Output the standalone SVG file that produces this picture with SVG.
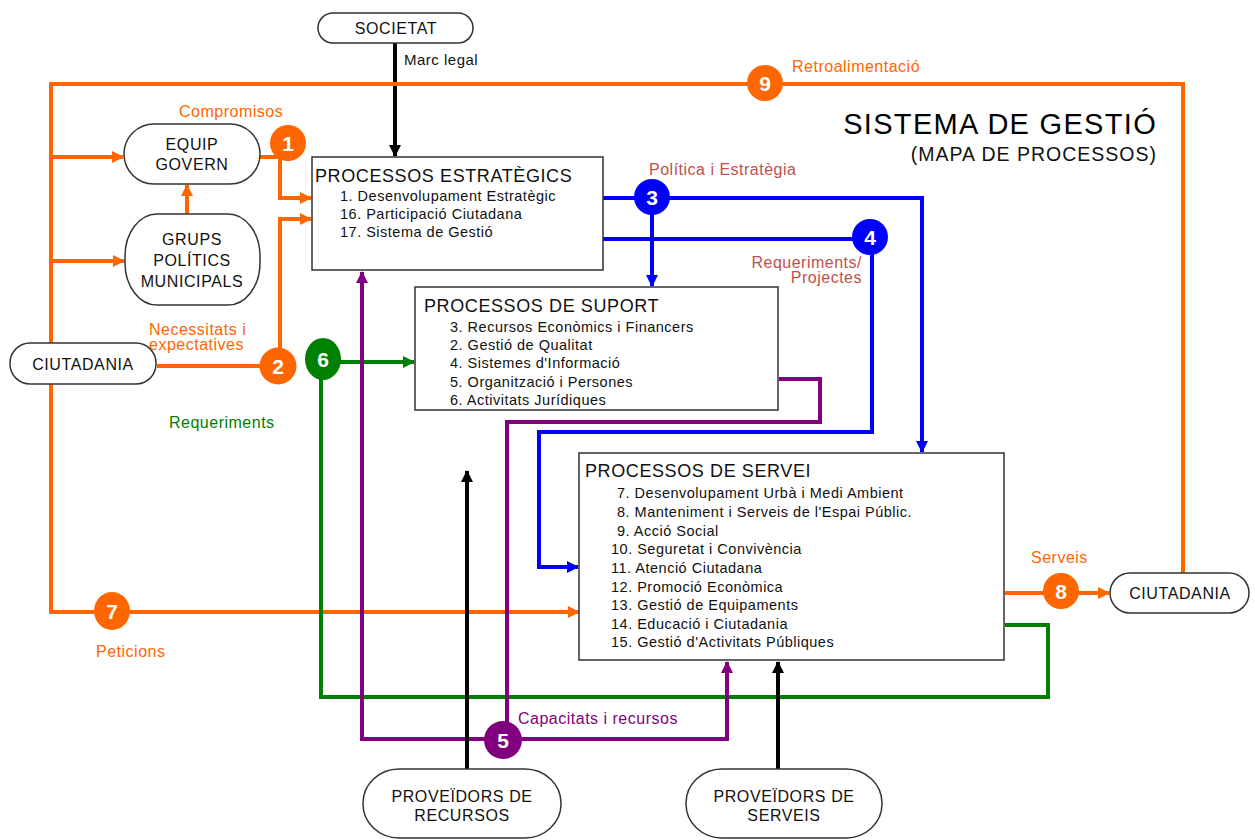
<svg xmlns="http://www.w3.org/2000/svg" width="1255" height="840" viewBox="0 0 1255 840">
<style>
text{font-family:"Liberation Sans",Arial,sans-serif}
.pill{fill:#fff;stroke:#333;stroke-width:1.5}
.box{fill:#fff;stroke:#333;stroke-width:1.5}
.nt{font-size:16px;letter-spacing:0.6px;fill:#111;text-anchor:middle}
.tt{font-size:18px;letter-spacing:0.6px;fill:#111}
.it{font-size:14.5px;letter-spacing:0.5px;fill:#111}
.lb{font-size:16px;letter-spacing:0.5px}
.num{font-size:21px;font-weight:bold;fill:#fff;text-anchor:middle}
.o{stroke:#ff6600}
.b{stroke:#0000ff}
.g{stroke:#008000}
.p{stroke:#800080}
.k{stroke:#000}
.ln{fill:none;stroke-width:4;stroke-linejoin:miter}
</style>
<defs>
<marker id="ao" markerUnits="userSpaceOnUse" markerWidth="12" markerHeight="12" refX="11" refY="6" orient="auto"><path d="M0,0 L12,6 L0,12 Z" fill="#ff6600"/></marker>
<marker id="ab" markerUnits="userSpaceOnUse" markerWidth="12" markerHeight="12" refX="11" refY="6" orient="auto"><path d="M0,0 L12,6 L0,12 Z" fill="#0000ff"/></marker>
<marker id="ag" markerUnits="userSpaceOnUse" markerWidth="12" markerHeight="12" refX="11" refY="6" orient="auto"><path d="M0,0 L12,6 L0,12 Z" fill="#008000"/></marker>
<marker id="ap" markerUnits="userSpaceOnUse" markerWidth="12" markerHeight="12" refX="11" refY="6" orient="auto"><path d="M0,0 L12,6 L0,12 Z" fill="#800080"/></marker>
<marker id="ak" markerUnits="userSpaceOnUse" markerWidth="12" markerHeight="12" refX="11" refY="6" orient="auto"><path d="M0,0 L12,6 L0,12 Z" fill="#000"/></marker>
</defs>
<rect width="1255" height="840" fill="#fff"/>

<g id="connectors">
<path class="ln k" d="M395,43 V156" marker-end="url(#ak)"/>
<path class="ln o" d="M1183,573 V84 H51 V612 H579" marker-end="url(#ao)"/>
<path class="ln o" d="M51,157 H123" marker-end="url(#ao)"/>
<path class="ln o" d="M51,261 H124" marker-end="url(#ao)"/>
<path class="ln o" d="M187,214 V185" marker-end="url(#ao)"/>
<path class="ln o" d="M260,157 H280 V198 H311" marker-end="url(#ao)"/>
<path class="ln o" d="M157,366 H280 V219 H311" marker-end="url(#ao)"/>
<path class="ln o" d="M1005,593 H1109" marker-end="url(#ao)"/>
<path class="ln b" d="M603,198 H922 V452" marker-end="url(#ab)"/>
<path class="ln b" d="M652,198 V286" marker-end="url(#ab)"/>
<path class="ln b" d="M603,239 H872 V432 H539 V567 H578" marker-end="url(#ab)"/>
<path class="ln g" d="M323,362 H414" marker-end="url(#ag)"/>
<path class="ln g" d="M321,362 V697 H1048 V625 H1005"/>
<path class="ln p" d="M504,739 H362 V272" marker-end="url(#ap)"/>
<path class="ln p" d="M504,739 H727 V662" marker-end="url(#ap)"/>
<path class="ln p" d="M507,739 V422 H820 V379 H779"/>
<path class="ln k" d="M467,769 V471" marker-end="url(#ak)"/>
<path class="ln k" d="M778,769 V662" marker-end="url(#ak)"/>
</g>

<g id="societat"><rect class="pill" x="318" y="13" width="155" height="30" rx="15"/><text class="nt" x="396" y="34">SOCIETAT</text></g>
<g id="equip-govern"><rect class="pill" x="124" y="124" width="136" height="60" rx="30"/><text class="nt" x="192" y="150">EQUIP</text><text class="nt" x="192" y="170">GOVERN</text></g>
<g id="grups-politics"><rect class="pill" x="125" y="214" width="135" height="91" rx="32" ry="42"/><text class="nt" x="192" y="245">GRUPS</text><text class="nt" x="192" y="266">POLÍTICS</text><text class="nt" x="192" y="287">MUNICIPALS</text></g>
<g id="ciutadania-in"><rect class="pill" x="10" y="343" width="146" height="41" rx="20"/><text class="nt" x="83" y="370">CIUTADANIA</text></g>
<g id="ciutadania-out"><rect class="pill" x="1110" y="573" width="139" height="40" rx="20"/><text class="nt" x="1180" y="599">CIUTADANIA</text></g>
<g id="proveidors-recursos"><rect class="pill" x="363" y="769" width="198" height="69" rx="36" ry="34"/><text class="nt" x="462" y="802">PROVEÏDORS DE</text><text class="nt" x="462" y="821">RECURSOS</text></g>
<g id="proveidors-serveis"><rect class="pill" x="686" y="769" width="196" height="69" rx="36" ry="34"/><text class="nt" x="784" y="802">PROVEÏDORS DE</text><text class="nt" x="784" y="821">SERVEIS</text></g>

<g id="estrategics"><rect class="box" x="312" y="157" width="291" height="113"/>
<text class="tt" x="315" y="182">PROCESSOS ESTRATÈGICS</text>
<text class="it" x="340" y="201">1. Desenvolupament Estratègic</text>
<text class="it" x="340" y="219">16. Participació Ciutadana</text>
<text class="it" x="340" y="237">17. Sistema de Gestió</text></g>

<g id="suport"><rect class="box" x="415" y="287" width="363" height="123"/>
<text class="tt" x="424" y="312">PROCESSOS DE SUPORT</text>
<text class="it" x="450" y="332">3. Recursos Econòmics i Financers</text>
<text class="it" x="450" y="350">2. Gestió de Qualitat</text>
<text class="it" x="450" y="368">4. Sistemes d'Informació</text>
<text class="it" x="450" y="387">5. Organització i Persones</text>
<text class="it" x="450" y="405">6. Activitats Jurídiques</text></g>

<g id="servei"><rect class="box" x="579" y="453" width="425" height="207"/>
<text class="tt" x="585" y="477">PROCESSOS DE SERVEI</text>
<text class="it" x="617" y="498">7. Desenvolupament Urbà i Medi Ambient</text>
<text class="it" x="617" y="517">8. Manteniment i Serveis de l'Espai Públic.</text>
<text class="it" x="617" y="536">9. Acció Social</text>
<text class="it" x="611" y="554">10. Seguretat i Convivència</text>
<text class="it" x="611" y="573">11. Atenció Ciutadana</text>
<text class="it" x="611" y="592">12. Promoció Econòmica</text>
<text class="it" x="611" y="610">13. Gestió de Equipaments</text>
<text class="it" x="611" y="629">14. Educació i Ciutadania</text>
<text class="it" x="611" y="647">15. Gestió d'Activitats Públiques</text></g>

<g id="markers-num">
<g id="n1"><circle cx="288" cy="143" r="18" fill="#ff6600"/><text class="num" x="288" y="151">1</text></g>
<g id="n2"><circle cx="278" cy="366" r="18.5" fill="#ff6600"/><text class="num" x="278" y="374">2</text></g>
<g id="n3"><circle cx="652" cy="197" r="18" fill="#0000ff"/><text class="num" x="652" y="205">3</text></g>
<g id="n4"><circle cx="870" cy="237" r="18" fill="#0000ff"/><text class="num" x="870" y="245">4</text></g>
<g id="n5"><circle cx="503" cy="740" r="19" fill="#800080"/><text class="num" x="503" y="748">5</text></g>
<g id="n6"><ellipse cx="323" cy="359" rx="18" ry="21" fill="#008000"/><text class="num" x="323" y="367">6</text></g>
<g id="n7"><ellipse cx="112" cy="611" rx="18" ry="19" fill="#ff6600"/><text class="num" x="112" y="619">7</text></g>
<g id="n8"><circle cx="1061" cy="591" r="18" fill="#ff6600"/><text class="num" x="1061" y="599">8</text></g>
<g id="n9"><circle cx="765" cy="83" r="18" fill="#ff6600"/><text class="num" x="765" y="91">9</text></g>
</g>

<g id="labels">
<text class="lb" x="404" y="65" fill="#111" style="font-size:15px">Marc legal</text>
<text class="lb" x="179" y="117" fill="#ff6600">Compromisos</text>
<text class="lb" x="792" y="72" fill="#ff6600">Retroalimentació</text>
<text class="lb" x="649" y="175" fill="#c0504d">Política i Estratègia</text>
<text class="lb" x="862" y="268" fill="#c0504d" text-anchor="end">Requeriments/</text>
<text class="lb" x="862" y="283" fill="#c0504d" text-anchor="end">Projectes</text>
<text class="lb" x="149" y="335" fill="#ff6600">Necessitats i</text>
<text class="lb" x="149" y="350" fill="#ff6600">expectatives</text>
<text class="lb" x="169" y="428" fill="#008000">Requeriments</text>
<text class="lb" x="96" y="657" fill="#ff6600">Peticions</text>
<text class="lb" x="518" y="724" fill="#800080">Capacitats i recursos</text>
<text class="lb" x="1031" y="563" fill="#ff6600">Serveis</text>
<text x="1157" y="134" text-anchor="end" style="font-size:29px;letter-spacing:1.3px" fill="#000">SISTEMA DE GESTIÓ</text>
<text x="1157" y="161" text-anchor="end" style="font-size:19.5px;letter-spacing:1px" fill="#111">(MAPA DE PROCESSOS)</text>
</g>
</svg>
